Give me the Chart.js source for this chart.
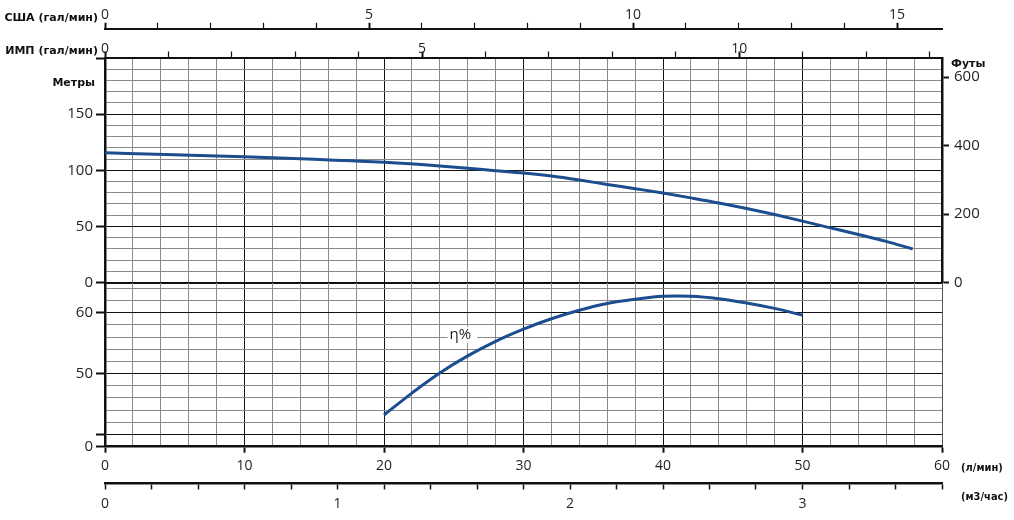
<!DOCTYPE html>
<html>
<head>
<meta charset="utf-8">
<script src="https://cdn.jsdelivr.net/npm/chart.js@4.4.1/dist/chart.umd.min.js"></script>
<style>
  html, body { margin: 0; padding: 0; background: #fff; }
  #wrap { position: relative; width: 1014px; height: 520px; }
  canvas { position: absolute; left: 0; }
</style>
</head>
<body>
<div id="wrap">
  <canvas id="head" width="1014" height="300" style="top:0"></canvas>
  <canvas id="eff" width="1014" height="250" style="top:270px"></canvas>
</div>
<script>
// напор, м (по л/мин)
const headFlow = [0, 5, 10, 15, 20, 24, 28, 30, 32, 34, 36, 38, 40, 42, 44, 46, 48, 50, 52, 54, 56, 57.9];
const headM = [115.5, 113.8, 112.0, 109.8, 107.1, 103.8, 99.6, 97.5, 94.8, 91.3, 87.4, 83.6, 79.7, 75.4, 70.9, 65.9, 60.5, 54.7, 48.7, 42.7, 36.6, 29.9];

// КПД, %
const effFlow = [20, 22, 24, 26, 28, 30, 32, 34, 36, 38, 40, 42, 44, 46, 48, 50];
const effPct = [43.2, 46.8, 50.1, 52.9, 55.3, 57.3, 59.0, 60.4, 61.5, 62.2, 62.7, 62.7, 62.3, 61.6, 60.7, 59.6];

// подписи шкал
const metreLabels = [0, 50, 100, 150];
const lpmLabels = [0, 10, 20, 30, 40, 50, 60];
const usLabels = [0, 5, 10, 15];
const impLabels = [0, 5, 10];
const m3Labels = [0, 1, 2, 3];
const effTickValues = [38, 50, 60];   // ось с разрывом: 38 подписан как 0
const effTickText = ["0", "50", "60"];
const effMajor = [40, 50, 60];

const LPM_MAX = 60;
const US_GAL = 3.78541;
const IMP_GAL = 4.54609;
const M_TO_FT = 3.28084;

const BLUE = "#1b4d8f";
const MAJOR = "#111111";
const MINOR = "#8a8a8a";
const NONE = "rgba(0,0,0,0)";
const TXT = "#231f20";
const xFont = { family: "'Open Sans', sans-serif", size: 14 };
const yFont = { family: "'Open Sans', sans-serif", size: 15 };

const near = (a, b) => Math.abs(a - b) < 1e-6;
const has = (arr, v) => arr.some(a => near(a, v));
const tv = c => (c.tick ? c.tick.value : NaN);

const headText = {
  id: "headText",
  afterDraw(chart) {
    const ctx = chart.ctx;
    const us = chart.scales.xUS, imp = chart.scales.xIMP;
    ctx.save();
    ctx.fillStyle = "#111";
    ctx.font = "bold 11px 'DejaVu Sans', sans-serif";
    ctx.textBaseline = "alphabetic";
    ctx.textAlign = "right";
    ctx.fillText("США (гал/мин)", us.left - 7, us.bottom - 8.5);
    ctx.fillText("ИМП (гал/мин)", imp.left - 7, imp.bottom - 4);
    ctx.fillText("Метры", 95, 86);
    ctx.textAlign = "left";
    ctx.fillText("Футы", 951, 67);
    ctx.restore();
  }
};

const effText = {
  id: "effText",
  afterDraw(chart) {
    const ctx = chart.ctx;
    const x = chart.scales.x, y = chart.scales.y;
    ctx.save();
    ctx.font = "15px 'Open Sans', sans-serif";
    const px = x.getPixelForValue(24.7), py = y.getPixelForValue(55.7);
    const w = ctx.measureText("η%").width;
    ctx.fillStyle = "#fff";
    ctx.fillRect(px - 2, py - 12, w + 8, 16);
    ctx.fillStyle = TXT;
    ctx.textBaseline = "alphabetic";
    ctx.textAlign = "left";
    ctx.fillText("η%", px, py);
    ctx.font = "bold 11px 'DejaVu Sans Condensed', 'Liberation Sans', sans-serif";
    ctx.fillStyle = "#111";
    ctx.fillText("(л/мин)", 961, x.bottom - 12);
    ctx.fillText("(м3/час)", 961, x.bottom + 17);
    ctx.restore();
  }
};

new Chart(document.getElementById("head"), {
  type: "line",
  data: {
    datasets: [{
      data: headFlow.map((f, i) => ({ x: f, y: headM[i] })),
      borderColor: BLUE,
      borderWidth: 3,
      pointRadius: 0,
      cubicInterpolationMode: "monotone",
      xAxisID: "x",
      yAxisID: "y"
    }]
  },
  options: {
    responsive: false,
    animation: false,
    events: [],
    layout: { padding: 0 },
    plugins: { legend: { display: false }, tooltip: { enabled: false } },
    scales: {
      x: {
        type: "linear", position: "bottom", min: 0, max: LPM_MAX,
        ticks: { stepSize: 2, display: false, autoSkip: false, includeBounds: false },
        grid: { color: c => (tv(c) % 10 === 0 ? MAJOR : MINOR), lineWidth: 1, drawTicks: false },
        border: { color: MAJOR, width: 2 },
        afterFit: s => { s.height = 17.5; }
      },
      xUS: {
        type: "linear", position: "top", weight: 2, min: 0, max: LPM_MAX / US_GAL,
        ticks: {
          stepSize: 1, autoSkip: false, includeBounds: false, maxRotation: 0, padding: -0.5,
          font: xFont, color: TXT,
          callback: v => (has(usLabels, v) ? String(v) : "")
        },
        grid: { drawOnChartArea: false, tickLength: 6.5, tickColor: MAJOR, tickWidth: c => (tv(c) % 5 === 0 ? 2 : 1.2) },
        border: { color: MAJOR, width: 2 },
        afterFit: s => { s.height = 29.3; }
      },
      xIMP: {
        type: "linear", position: "top", weight: 1, min: 0, max: LPM_MAX / IMP_GAL,
        ticks: {
          stepSize: 1, autoSkip: false, includeBounds: false, maxRotation: 0, padding: -5.5,
          font: xFont, color: TXT,
          callback: v => (has(impLabels, v) ? String(v) : "")
        },
        grid: { drawOnChartArea: false, tickLength: 6.5, tickColor: MAJOR, tickWidth: c => (tv(c) % 5 === 0 ? 2 : 1.2) },
        border: { color: MAJOR, width: 2 },
        afterFit: s => { s.height = 28.7; }
      },
      y: {
        type: "linear", position: "left", min: 0, max: 200,
        ticks: {
          stepSize: 10, autoSkip: false, includeBounds: false, padding: 3,
          font: yFont, color: TXT,
          callback: v => (has(metreLabels, v) ? String(v) : "")
        },
        grid: {
          color: c => (tv(c) % 50 === 0 ? MAJOR : MINOR), lineWidth: 1,
          tickLength: 9, tickWidth: 2, tickColor: c => (tv(c) % 50 === 0 ? MAJOR : NONE)
        },
        border: { color: MAJOR, width: 2.5 },
        afterFit: s => { s.width = 105; }
      },
      yFt: {
        type: "linear", position: "right", min: 0, max: 200 * M_TO_FT,
        ticks: { stepSize: 200, autoSkip: false, includeBounds: false, padding: 5, font: yFont, color: TXT },
        grid: { drawOnChartArea: false, tickLength: 7, tickWidth: 2, tickColor: MAJOR },
        border: { color: MAJOR, width: 2.5 },
        afterFit: s => { s.width = 72; }
      }
    }
  },
  plugins: [headText]
});

new Chart(document.getElementById("eff"), {
  type: "line",
  data: {
    datasets: [{
      data: effFlow.map((f, i) => ({ x: f, y: effPct[i] })),
      borderColor: BLUE,
      borderWidth: 3,
      pointRadius: 0,
      tension: 0.4,
      xAxisID: "x",
      yAxisID: "y"
    }]
  },
  options: {
    responsive: false,
    animation: false,
    events: [],
    layout: { padding: { top: 13, right: 72, left: 0, bottom: 0 } },
    plugins: { legend: { display: false }, tooltip: { enabled: false } },
    scales: {
      x: {
        type: "linear", position: "bottom", weight: 1, min: 0, max: LPM_MAX,
        ticks: {
          stepSize: 2, autoSkip: false, includeBounds: false, maxRotation: 0, padding: 5,
          font: xFont, color: TXT,
          callback: v => (has(lpmLabels, v) ? String(v) : "")
        },
        grid: {
          color: c => (tv(c) === LPM_MAX ? "#555" : tv(c) % 10 === 0 ? MAJOR : MINOR), lineWidth: 1,
          tickLength: 6, tickWidth: 2, tickColor: c => (tv(c) % 10 === 0 ? MAJOR : NONE)
        },
        border: { color: MAJOR, width: 2.5 },
        afterFit: s => { s.height = 36.3; }
      },
      xM3: {
        type: "linear", position: "bottom", weight: 2, min: 0, max: LPM_MAX * 60 / 1000,
        ticks: {
          stepSize: 0.2, autoSkip: false, includeBounds: false, maxRotation: 0, padding: 6,
          font: xFont, color: TXT,
          callback: v => (has(m3Labels, v) ? String(Math.round(v)) : "")
        },
        grid: { drawOnChartArea: false, tickLength: 6.5, tickColor: MAJOR, tickWidth: 1.5 },
        border: { color: MAJOR, width: 2.5 },
        afterFit: s => { s.height = 37; }
      },
      y: {
        type: "linear", position: "left", min: 38, max: 64.87,
        ticks: {
          stepSize: 2, autoSkip: false, includeBounds: false, padding: 3,
          font: yFont, color: TXT,
          callback: v => {
            const i = effTickValues.findIndex(t => near(t, v));
            return i >= 0 ? effTickText[i] : "";
          }
        },
        grid: {
          color: c => (has(effMajor, tv(c)) ? MAJOR : MINOR), lineWidth: 1,
          tickLength: 9, tickWidth: 2,
          tickColor: c => (has(effMajor, tv(c)) || near(tv(c), 38) ? MAJOR : NONE)
        },
        border: { color: MAJOR, width: 2.5 },
        afterFit: s => { s.width = 105; }
      }
    }
  },
  plugins: [effText]
});
</script>
</body>
</html>
